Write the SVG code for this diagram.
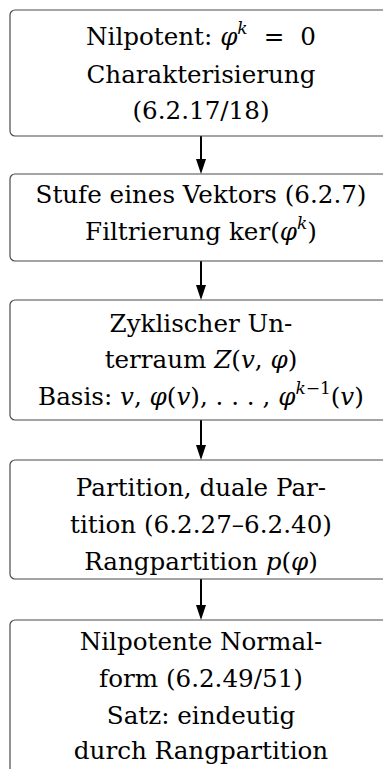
<svg xmlns="http://www.w3.org/2000/svg" width="383" height="769" viewBox="0 0 383 769">
<style>
.box{fill:#ffffff;stroke:#4a4a4a;stroke-width:1.2}
.t{font-family:'DejaVu Serif',serif;font-size:24.6px;fill:#000;text-anchor:middle}
.m{font-style:italic}
.s{font-size:17px;font-style:italic}
.edge{stroke:#000;stroke-width:2;fill:none}
.ah{fill:#000}
</style>
<rect width="383" height="769" fill="#fff"/>
<g id="connectors">
<path class="edge" d="M201,136 V160"/><path class="ah" d="M196,159 L206,159 L201,174 Z"/>
<path class="edge" d="M201,261 V286"/><path class="ah" d="M196,285 L206,285 L201,300 Z"/>
<path class="edge" d="M201,420 V446"/><path class="ah" d="M196,445 L206,445 L201,460 Z"/>
<path class="edge" d="M201,579 V606"/><path class="ah" d="M196,605 L206,605 L201,620 Z"/>
</g>
<g id="n1">
<rect class="box" x="10" y="10" width="382" height="126" rx="5"/>
<text class="t" x="201" y="45">Nilpotent: <tspan class="m">φ</tspan><tspan class="s" dy="-11">k</tspan><tspan dx="16" dy="11">=</tspan><tspan dx="16">0</tspan></text>
<text class="t" x="201" y="83">Charakterisierung</text>
<text class="t" x="201" y="119">(6.2.17/18)</text>
</g>
<g id="n2">
<rect class="box" x="10" y="174" width="382" height="87" rx="5"/>
<text class="t" x="201" y="203">Stufe eines Vektors (6.2.7)</text>
<text class="t" x="201" y="240">Filtrierung ker(<tspan class="m">φ</tspan><tspan class="s" dy="-11">k</tspan><tspan dy="11">)</tspan></text>
</g>
<g id="n3">
<rect class="box" x="10" y="300" width="382" height="120" rx="5"/>
<text class="t" x="201" y="332">Zyklischer Un-</text>
<text class="t" x="201" y="368">terraum <tspan class="m">Z</tspan>(<tspan class="m">v</tspan>, <tspan class="m">φ</tspan>)</text>
<text class="t" x="201" y="405">Basis: <tspan class="m">v</tspan>, <tspan class="m">φ</tspan>(<tspan class="m">v</tspan>), . . . , <tspan class="m">φ</tspan><tspan class="s" dy="-11">k</tspan><tspan font-size="17">−1</tspan><tspan dy="11">(</tspan><tspan class="m">v</tspan>)</text>
</g>
<g id="n4">
<rect class="box" x="10" y="460" width="382" height="119" rx="5"/>
<text class="t" x="201" y="496">Partition, duale Par-</text>
<text class="t" x="201" y="533">tition (6.2.27–6.2.40)</text>
<text class="t" x="201" y="570">Rangpartition <tspan class="m">p</tspan>(<tspan class="m">φ</tspan>)</text>
</g>
<g id="n5">
<rect class="box" x="10" y="620" width="382" height="170" rx="5"/>
<text class="t" x="201" y="650">Nilpotente Normal-</text>
<text class="t" x="201" y="687">form (6.2.49/51)</text>
<text class="t" x="201" y="724">Satz: eindeutig</text>
<text class="t" x="201" y="759">durch Rangpartition</text>
</g>
</svg>
